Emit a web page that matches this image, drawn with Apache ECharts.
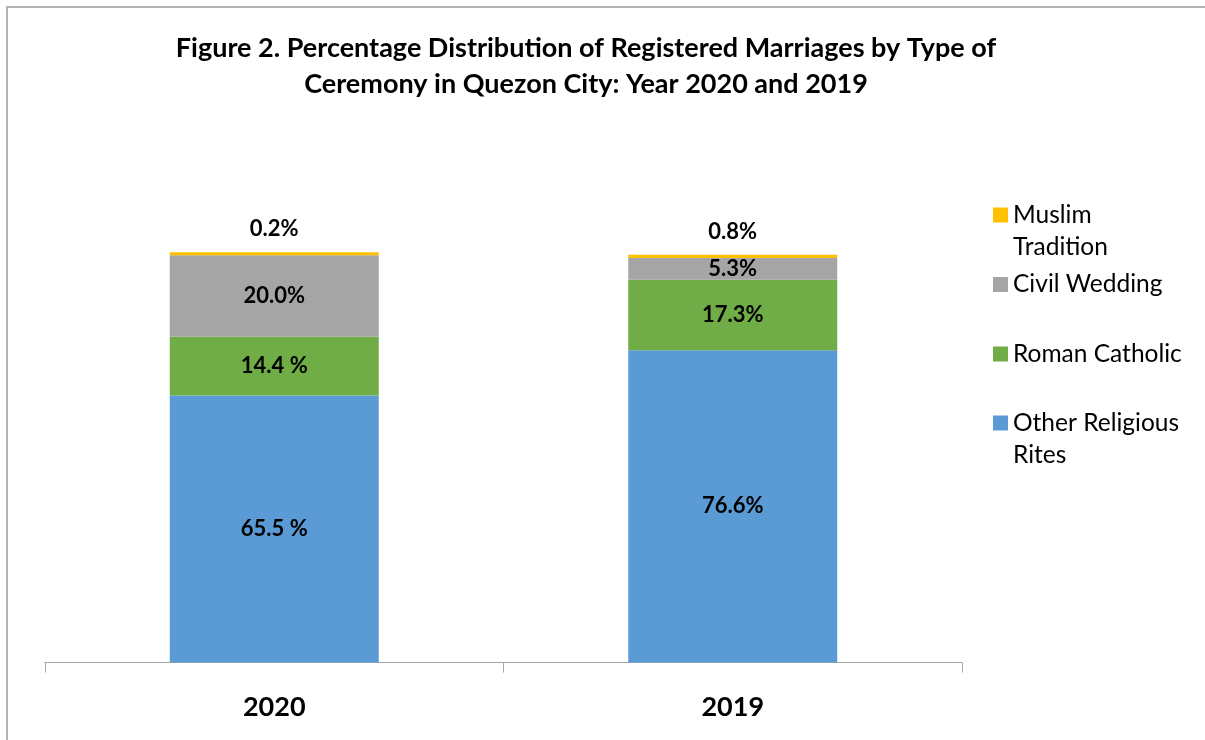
<!DOCTYPE html>
<html>
<head>
<meta charset="utf-8">
<title>Registered Marriages by Type of Ceremony</title>
<script src="https://cdn.jsdelivr.net/npm/echarts@6/dist/echarts.min.js"></script>
<style>
  html, body { margin: 0; padding: 0; background: #fff; }
  #frame {
    position: absolute; left: 6px; top: 6px; width: 1199px; height: 734px;
    border-left: 2px solid #b3b3b3; border-top: 2px solid #b3b3b3;
  }
  #chart { position: absolute; left: 0; top: 0; width: 1205px; height: 740px; }
</style>
</head>
<body>
<div id="frame"></div>
<div id="chart"></div>
<script>
// categories
const years = ['2020', '2019']

// series values (percent)
const otherRites = [65.5, 76.6]
const romanCatholic = [14.4, 17.3]
const civilWedding = [20.0, 5.3]
const muslimTradition = [0.2, 0.8]

// data label texts as printed in the figure
const otherLabels = ['65.5 %', '76.6%']
const romanLabels = ['14.4 %', '17.3%']
const civilLabels = ['20.0%', '5.3%']
const muslimLabels = ['0.2%', '0.8%']

const FONT = 'Lato, "Open Sans", sans-serif'

const chart = echarts.init(document.getElementById('chart'))

const labelStyle = (texts) => ({
  show: true,
  position: 'inside',
  color: '#000',
  fontFamily: FONT,
  fontWeight: 'bold',
  fontSize: 22,
  formatter: p => texts[p.dataIndex]
})

// one legend per entry; two-line entries get an empty first line
// so the icon lines up with the first line of text, like in Excel
const legendItem = (name, text, top) => ({
  orient: 'vertical',
  left: 993,
  top: top,
  padding: 0,
  itemWidth: 15,
  itemHeight: 15,
  icon: 'rect',
  selectedMode: false,
  formatter: () => text,
  textStyle: {
    fontFamily: FONT,
    fontSize: 24.5,
    lineHeight: 32,
    color: '#000'
  },
  data: [name]
})

const option = {
  animation: false,
  title: {
    text: 'Figure 2. Percentage Distribution of Registered Marriages by Type of\nCeremony in Quezon City: Year 2020 and 2019',
    left: 586,
    top: 30,
    padding: 0,
    textAlign: 'center',
    textStyle: {
      fontFamily: FONT,
      fontWeight: 'bold',
      fontSize: 27,
      lineHeight: 36,
      color: '#000'
    }
  },
  legend: [
    legendItem('Muslim Tradition', '\nMuslim\nTradition', 167),
    legendItem('Civil Wedding', 'Civil Wedding', 268.5),
    legendItem('Roman Catholic', 'Roman Catholic', 338),
    legendItem('Other Religious Rites', '\nOther Religious\nRites', 375)
  ],
  grid: {
    left: 45,
    right: 243,
    top: 172,
    bottom: 77.5
  },
  xAxis: {
    type: 'category',
    data: years,
    axisLine: { lineStyle: { color: '#a6a6a6', width: 1 } },
    axisTick: { show: true, length: 10, lineStyle: { color: '#a6a6a6' } },
    axisLabel: {
      margin: 31,
      color: '#000',
      fontFamily: FONT,
      fontWeight: 'bold',
      fontSize: 27
    }
  },
  yAxis: {
    type: 'value',
    min: 0,
    max: 120.3,
    show: false,
    splitLine: { show: false }
  },
  series: [
    {
      name: 'Other Religious Rites',
      type: 'bar',
      stack: 'total',
      barWidth: 209,
      data: otherRites,
      itemStyle: { color: '#5b9bd5' },
      label: labelStyle(otherLabels)
    },
    {
      name: 'Roman Catholic',
      type: 'bar',
      stack: 'total',
      data: romanCatholic,
      itemStyle: { color: '#70ad47' },
      label: labelStyle(romanLabels)
    },
    {
      name: 'Civil Wedding',
      type: 'bar',
      stack: 'total',
      data: civilWedding,
      itemStyle: { color: '#a5a5a5' },
      label: labelStyle(civilLabels)
    },
    {
      name: 'Muslim Tradition',
      type: 'bar',
      stack: 'total',
      barMinHeight: 3,
      data: muslimTradition,
      itemStyle: { color: '#ffc000' },
      label: Object.assign(labelStyle(muslimLabels), { position: 'top', distance: 12 })
    }
  ]
}

chart.setOption(option)
</script>
</body>
</html>
